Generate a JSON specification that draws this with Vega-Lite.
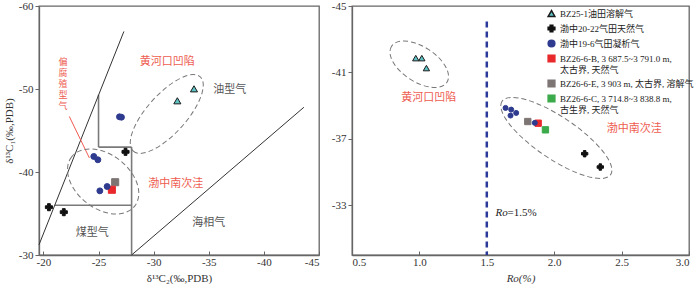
{
  "$schema": "https://vega.github.io/schema/vega-lite/v6.json",
  "background": "white",
  "padding": {"left": 2, "top": -1, "right": 4, "bottom": 0},
  "spacing": 9,
  "datasets": {
    "leftPts": [
      {"type": "BZ25-1油田溶解气", "x": -33.66, "y": -50.02},
      {"type": "BZ25-1油田溶解气", "x": -32.15, "y": -48.58},
      {"type": "BZ26-6-E, 3 903 m, 太古界, 溶解气", "x": -26.51, "y": -38.77},
      {"type": "BZ26-6-B, 3 687.5~3 791.0 m, 太古界, 天然气", "x": -26.21, "y": -37.86},
      {"type": "渤中19-6气田凝析气", "x": -26.9, "y": -46.65},
      {"type": "渤中19-6气田凝析气", "x": -27.08, "y": -46.6},
      {"type": "渤中19-6气田凝析气", "x": -24.57, "y": -41.87},
      {"type": "渤中19-6气田凝析气", "x": -24.94, "y": -41.47},
      {"type": "渤中19-6气田凝析气", "x": -25.12, "y": -37.73},
      {"type": "渤中19-6气田凝析气", "x": -25.78, "y": -38.25},
      {"type": "渤中20-22气田天然气", "x": -27.45, "y": -42.43},
      {"type": "渤中20-22气田天然气", "x": -20.5, "y": -35.76},
      {"type": "渤中20-22气田天然气", "x": -21.85, "y": -35.16}
    ],
    "rightPts": [
      {"type": "BZ25-1油田溶解气", "x": 0.973, "y": -41.86},
      {"type": "BZ25-1油田溶解气", "x": 1.018, "y": -41.86},
      {"type": "BZ25-1油田溶解气", "x": 1.052, "y": -41.26},
      {"type": "BZ26-6-E, 3 903 m, 太古界, 溶解气", "x": 1.804, "y": -38.04},
      {"type": "BZ26-6-B, 3 687.5~3 791.0 m, 太古界, 天然气", "x": 1.881, "y": -37.94},
      {"type": "BZ26-6-C, 3 714.8~3 838.8 m, 古生界, 天然气", "x": 1.935, "y": -37.54},
      {"type": "渤中19-6气田凝析气", "x": 1.639, "y": -38.86},
      {"type": "渤中19-6气田凝析气", "x": 1.681, "y": -38.76},
      {"type": "渤中19-6气田凝析气", "x": 1.718, "y": -38.56},
      {"type": "渤中19-6气田凝析气", "x": 1.676, "y": -38.4},
      {"type": "渤中19-6气田凝析气", "x": 1.856, "y": -37.96},
      {"type": "渤中20-22气田天然气", "x": 2.226, "y": -36.1},
      {"type": "渤中20-22气田天然气", "x": 2.342, "y": -35.3}
    ],
    "leftBlack": [
      {"x": -19.6, "y": -31.23, "x2": -27.3, "y2": -56.93},
      {"x": -28, "y": -30, "x2": -43.63, "y2": -47.8}
    ],
    "leftBox": [
      {"x": -25, "y": -49.3, "x2": -25, "y2": -43},
      {"x": -25, "y": -43, "x2": -28, "y2": -43},
      {"x": -28, "y": -43, "x2": -28, "y2": -30},
      {"x": -21.02, "y": -36, "x2": -28, "y2": -36}
    ],
    "leftRed": [
      {"x": -22.35, "y": -46.69, "x2": -24.17, "y2": -41.69}
    ],
    "ellipses": [
      {"name": "L1", "x": -31.19, "y": -46.99},
      {"name": "L2", "x": -25.42, "y": -38.86},
      {"name": "R1", "x": 0.999, "y": -41.49},
      {"name": "R2", "x": 2.016, "y": -37.05}
    ],
    "leftLabels": [
      {"label": "黄河口凹陷", "cat": "region", "x": -31.24, "y": -53.31},
      {"label": "油型气", "cat": "gas", "x": -36.9, "y": -49.9},
      {"label": "渤中南次洼", "cat": "region", "x": -32.01, "y": -38.61},
      {"label": "煤型气", "cat": "gas", "x": -24.42, "y": -32.71},
      {"label": "海相气", "cat": "gas", "x": -35.01, "y": -33.83}
    ],
    "leftVertical": [
      {"label": "偏\n腐\n殖\n型\n气", "x": -21.78, "y": -53.2}
    ],
    "rightLabels": [
      {"label": "黄河口凹陷", "x": 1.07, "y": -39.46},
      {"label": "渤中南次洼", "x": 2.593, "y": -37.62}
    ],
    "roLine": [
      {"x": 1.5, "y": -44.06, "y2": -30}
    ],
    "roLabel": [
      {"part": "Ro", "x": 1.565, "y": -32.56},
      {"part": "=1.5%", "x": 1.654, "y": -32.56}
    ]
  },
  "hconcat": [
    {
      "width": 280,
      "height": 249,
      "layer": [
        {
          "data": {"name": "leftBox"},
          "mark": {"type": "rule", "stroke": "#7a7a7a", "strokeWidth": 1.6},
          "encoding": {
            "x": {"field": "x", "type": "quantitative",
              "scale": {"domain": [-45, -19.6], "reverse": true, "nice": false, "zero": false},
              "axis": {"values": [-20, -25, -30, -35, -40, -45], "format": "d", "labelExpr": "replace(datum.label, '−', '-')", "title": "δ¹³C₂(‰,PDB)", "tickSize": -4, "labelPadding": 5, "titlePadding": 5}},
            "y": {"field": "y", "type": "quantitative",
              "scale": {"domain": [-60, -30], "reverse": true, "nice": false, "zero": false},
              "axis": {"values": [-60, -50, -40, -30], "format": "d", "labelExpr": "replace(datum.label, '−', '-')", "title": "δ¹³C₁(‰,PDB)", "tickSize": 4, "labelPadding": 2, "titlePadding": 4}},
            "x2": {"field": "x2"},
            "y2": {"field": "y2"}
          }
        },
        {
          "data": {"name": "leftBlack"},
          "mark": {"type": "rule", "stroke": "#333333", "strokeWidth": 1},
          "encoding": {
            "x": {"field": "x", "type": "quantitative"},
            "y": {"field": "y", "type": "quantitative"},
            "x2": {"field": "x2"},
            "y2": {"field": "y2"}
          }
        },
        {
          "data": {"name": "leftRed"},
          "mark": {"type": "rule", "stroke": "#f05a50", "strokeWidth": 1},
          "encoding": {
            "x": {"field": "x", "type": "quantitative"},
            "y": {"field": "y", "type": "quantitative"},
            "x2": {"field": "x2"},
            "y2": {"field": "y2"}
          }
        },
        {
          "data": {"name": "ellipses"},
          "transform": [{"filter": "datum.name == 'L1'"}],
          "mark": {"type": "point", "shape": "M -50 0 A 50 19.6 0 1 0 50 0 A 50 19.6 0 1 0 -50 0 Z", "size": 4, "angle": -48, "filled": false, "stroke": "#777777", "strokeWidth": 1, "strokeDash": [5, 3], "opacity": 1},
          "encoding": {
            "x": {"field": "x", "type": "quantitative"},
            "y": {"field": "y", "type": "quantitative"}
          }
        },
        {
          "data": {"name": "ellipses"},
          "transform": [{"filter": "datum.name == 'L2'"}],
          "mark": {"type": "point", "shape": "M -40 0 A 40 27 0 1 0 40 0 A 40 27 0 1 0 -40 0 Z", "size": 4, "angle": 38, "filled": false, "stroke": "#777777", "strokeWidth": 1, "strokeDash": [5, 3], "opacity": 1},
          "encoding": {
            "x": {"field": "x", "type": "quantitative"},
            "y": {"field": "y", "type": "quantitative"}
          }
        },
        {
          "data": {"name": "leftPts"},
          "mark": {"type": "point", "filled": true, "opacity": 1, "strokeWidth": 1},
          "encoding": {
            "x": {"field": "x", "type": "quantitative"},
            "y": {"field": "y", "type": "quantitative"},
            "shape": {"field": "type", "type": "nominal", "legend": null,
              "scale": {"domain": ["BZ25-1油田溶解气", "渤中20-22气田天然气", "渤中19-6气田凝析气", "BZ26-6-B, 3 687.5~3 791.0 m, 太古界, 天然气", "BZ26-6-E, 3 903 m, 太古界, 溶解气", "BZ26-6-C, 3 714.8~3 838.8 m, 古生界, 天然气"],
                "range": ["triangle-up", "cross", "circle", "square", "square", "square"]}},
            "fill": {"field": "type", "type": "nominal", "legend": null,
              "scale": {"domain": ["BZ25-1油田溶解气", "渤中20-22气田天然气", "渤中19-6气田凝析气", "BZ26-6-B, 3 687.5~3 791.0 m, 太古界, 天然气", "BZ26-6-E, 3 903 m, 太古界, 溶解气", "BZ26-6-C, 3 714.8~3 838.8 m, 古生界, 天然气"],
                "range": ["#5fc3c6", "#111111", "#2e3b8f", "#e8282b", "#7d7573", "#3aaa4a"]}},
            "stroke": {"field": "type", "type": "nominal", "legend": null,
              "scale": {"domain": ["BZ25-1油田溶解气", "渤中20-22气田天然气", "渤中19-6气田凝析气", "BZ26-6-B, 3 687.5~3 791.0 m, 太古界, 天然气", "BZ26-6-E, 3 903 m, 太古界, 溶解气", "BZ26-6-C, 3 714.8~3 838.8 m, 古生界, 天然气"],
                "range": ["#1a1a1a", "#111111", "#2e3b8f", "#e8282b", "#7d7573", "#3aaa4a"]}},
            "size": {"condition": {"test": "datum.type == '渤中19-6气田凝析气'", "value": 35}, "value": 50}
          }
        },
        {
          "data": {"name": "leftLabels"},
          "mark": {"type": "text", "font": "Noto Sans CJK SC", "fontSize": 11, "align": "center", "baseline": "middle"},
          "encoding": {
            "x": {"field": "x", "type": "quantitative"},
            "y": {"field": "y", "type": "quantitative"},
            "text": {"field": "label"},
            "color": {"condition": {"test": "datum.cat == 'region'", "value": "#ee5c50"}, "value": "#555555"}
          }
        },
        {
          "data": {"name": "leftVertical"},
          "mark": {"type": "text", "font": "Noto Sans CJK SC", "fontSize": 9, "lineHeight": 11, "lineBreak": "\n", "align": "center", "baseline": "middle", "color": "#ee5c50"},
          "encoding": {
            "x": {"field": "x", "type": "quantitative"},
            "y": {"field": "y", "type": "quantitative"},
            "text": {"field": "label"}
          }
        }
      ]
    },
    {
      "width": 337,
      "height": 249,
      "layer": [
        {
          "data": {"name": "roLine"},
          "mark": {"type": "rule", "stroke": "#2b3a9a", "strokeWidth": 2.5, "strokeDash": [6, 4]},
          "encoding": {
            "x": {"field": "x", "type": "quantitative",
              "scale": {"domain": [0.5, 3.0], "nice": false, "zero": false},
              "axis": {"values": [0.5, 1.0, 1.5, 2.0, 2.5, 3.0], "format": ".1f", "title": "Ro(%)", "titleFontStyle": "italic", "tickSize": -4, "labelPadding": 5, "titlePadding": 5}},
            "y": {"field": "y", "type": "quantitative",
              "scale": {"domain": [-45, -30], "reverse": true, "nice": false, "zero": false},
              "axis": {"values": [-45, -43, -41, -39, -37, -35, -33, -31], "format": "d", "labelExpr": "replace(datum.label, '−', '-')", "title": null, "tickSize": 4, "labelPadding": 2}},
            "y2": {"field": "y2"}
          }
        },
        {
          "data": {"name": "ellipses"},
          "transform": [{"filter": "datum.name == 'R1'"}],
          "mark": {"type": "point", "shape": "M -33 0 A 33 17.5 0 1 0 33 0 A 33 17.5 0 1 0 -33 0 Z", "size": 4, "angle": 33, "filled": false, "stroke": "#777777", "strokeWidth": 1, "strokeDash": [5, 3], "opacity": 1},
          "encoding": {
            "x": {"field": "x", "type": "quantitative"},
            "y": {"field": "y", "type": "quantitative"}
          }
        },
        {
          "data": {"name": "ellipses"},
          "transform": [{"filter": "datum.name == 'R2'"}],
          "mark": {"type": "point", "shape": "M -65.5 0 A 65.5 21 0 1 0 65.5 0 A 65.5 21 0 1 0 -65.5 0 Z", "size": 4, "angle": 34, "filled": false, "stroke": "#777777", "strokeWidth": 1, "strokeDash": [5, 3], "opacity": 1},
          "encoding": {
            "x": {"field": "x", "type": "quantitative"},
            "y": {"field": "y", "type": "quantitative"}
          }
        },
        {
          "data": {"name": "rightPts"},
          "mark": {"type": "point", "filled": true, "opacity": 1, "strokeWidth": 1},
          "encoding": {
            "x": {"field": "x", "type": "quantitative"},
            "y": {"field": "y", "type": "quantitative"},
            "shape": {"field": "type", "type": "nominal",
              "scale": {"domain": ["BZ25-1油田溶解气", "渤中20-22气田天然气", "渤中19-6气田凝析气", "BZ26-6-B, 3 687.5~3 791.0 m, 太古界, 天然气", "BZ26-6-E, 3 903 m, 太古界, 溶解气", "BZ26-6-C, 3 714.8~3 838.8 m, 古生界, 天然气"],
                "range": ["triangle-up", "cross", "circle", "square", "square", "square"]},
              "legend": {"orient": "none", "legendX": 195, "legendY": 3, "title": null, "padding": 0, "rowPadding": 2, "labelOffset": 4, "symbolSize": 45, "labelFont": "Liberation Serif, Noto Sans CJK SC", "labelFontSize": 9, "labelColor": "#222222", "labelLimit": 220,
                "labelExpr": "test(regexp('~'), datum.label) ? [replace(datum.label, regexp(' (太古界|古生界).*$'), ''), replace(datum.label, regexp('^.* m, '), '')] : datum.label"}},
            "fill": {"field": "type", "type": "nominal",
              "scale": {"domain": ["BZ25-1油田溶解气", "渤中20-22气田天然气", "渤中19-6气田凝析气", "BZ26-6-B, 3 687.5~3 791.0 m, 太古界, 天然气", "BZ26-6-E, 3 903 m, 太古界, 溶解气", "BZ26-6-C, 3 714.8~3 838.8 m, 古生界, 天然气"],
                "range": ["#5fc3c6", "#111111", "#2e3b8f", "#e8282b", "#7d7573", "#3aaa4a"]},
              "legend": {"orient": "none", "legendX": 195, "legendY": 3, "title": null, "padding": 0, "rowPadding": 2, "labelOffset": 4, "symbolSize": 45, "labelFont": "Liberation Serif, Noto Sans CJK SC", "labelFontSize": 9, "labelColor": "#222222", "labelLimit": 220,
                "labelExpr": "test(regexp('~'), datum.label) ? [replace(datum.label, regexp(' (太古界|古生界).*$'), ''), replace(datum.label, regexp('^.* m, '), '')] : datum.label"}},
            "stroke": {"field": "type", "type": "nominal",
              "scale": {"domain": ["BZ25-1油田溶解气", "渤中20-22气田天然气", "渤中19-6气田凝析气", "BZ26-6-B, 3 687.5~3 791.0 m, 太古界, 天然气", "BZ26-6-E, 3 903 m, 太古界, 溶解气", "BZ26-6-C, 3 714.8~3 838.8 m, 古生界, 天然气"],
                "range": ["#1a1a1a", "#111111", "#2e3b8f", "#e8282b", "#7d7573", "#3aaa4a"]},
              "legend": {"orient": "none", "legendX": 195, "legendY": 3, "title": null, "padding": 0, "rowPadding": 2, "labelOffset": 4, "symbolSize": 45, "labelFont": "Liberation Serif, Noto Sans CJK SC", "labelFontSize": 9, "labelColor": "#222222", "labelLimit": 220,
                "labelExpr": "test(regexp('~'), datum.label) ? [replace(datum.label, regexp(' (太古界|古生界).*$'), ''), replace(datum.label, regexp('^.* m, '), '')] : datum.label"}},
            "size": {"condition": {"test": "datum.type == '渤中19-6气田凝析气'", "value": 25}, "value": 40}
          }
        },
        {
          "data": {"name": "rightLabels"},
          "mark": {"type": "text", "font": "Noto Sans CJK SC", "fontSize": 11, "align": "center", "baseline": "middle", "color": "#ee5c50"},
          "encoding": {
            "x": {"field": "x", "type": "quantitative"},
            "y": {"field": "y", "type": "quantitative"},
            "text": {"field": "label"}
          }
        },
        {
          "data": {"name": "roLabel"},
          "transform": [{"filter": "datum.part == 'Ro'"}],
          "mark": {"type": "text", "font": "Liberation Serif", "fontSize": 11, "fontStyle": "italic", "align": "left", "baseline": "middle", "color": "#222222"},
          "encoding": {
            "x": {"field": "x", "type": "quantitative"},
            "y": {"field": "y", "type": "quantitative"},
            "text": {"field": "part"}
          }
        },
        {
          "data": {"name": "roLabel"},
          "transform": [{"filter": "datum.part != 'Ro'"}],
          "mark": {"type": "text", "font": "Liberation Serif", "fontSize": 11, "align": "left", "baseline": "middle", "color": "#222222"},
          "encoding": {
            "x": {"field": "x", "type": "quantitative"},
            "y": {"field": "y", "type": "quantitative"},
            "text": {"field": "part"}
          }
        }
      ]
    }
  ],
  "resolve": {"scale": {"fill": "independent", "shape": "independent", "stroke": "independent"}},
  "config": {
    "font": "Liberation Serif",
    "view": {"stroke": "#666666", "strokeWidth": 1.3},
    "axis": {"grid": false, "domainColor": "#666666", "domainWidth": 1.3, "tickColor": "#666666", "labelFont": "Liberation Serif", "labelFontSize": 11, "labelColor": "#333333", "titleFont": "Liberation Serif", "titleFontSize": 11, "titleFontWeight": "normal", "titleColor": "#333333"}
  }
}
